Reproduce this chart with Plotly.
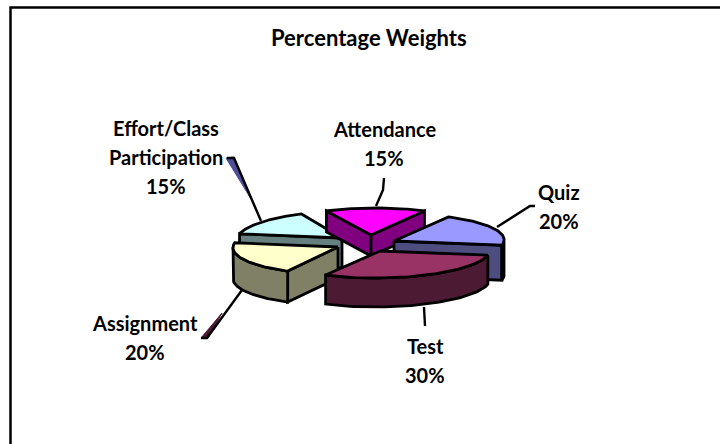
import numpy as np
import plotly.graph_objects as go

# ---- data ----
categories = ["Attendance", "Quiz", "Test", "Assignment", "Effort/Class<br>Participation"]
values = [15, 20, 30, 20, 15]
label_text = ["Attendance<br>15%", "Quiz<br>20%", "Test<br>30%", "Assignment<br>20%", "Effort/Class<br>Participation<br>15%"]
top_colors = ["#FF00FF", "#9999FF", "#993366", "#FFFFCC", "#CCFFFF"]
side_colors = ["#800080", "#4D4D80", "#4D1A33", "#808066", "#668080"]
title_text = "Percentage Weights"

# ---- pie geometry (screen-pixel scene) ----
RXS = [108, 110, 110, 105, 105]
RY = 27
SHEARS = [5, 5, 5, 3, 8]
START = -27
apexes = [(371, 235), (394, 241), (380, 251), (338, 247), (342, 238)]
depths = [21, 35, 29, 31, 30]
draw_order = [4, 0, 1, 3, 2]
label_pos = [(384, 129), (559, 192), (425, 346), (145, 323), (166, 128)]
LINE_GAP = 29
leaders = [
    [(376, 206), (383, 190), (384, 178)],
    [(497, 227), (530, 206), (535, 206)],
    [(424, 307), (425, 326)],
    [(242, 290), (207, 338), (201, 338)],
    [(261, 221), (234, 158), (227, 158)],
]
slivers = [None, None, None, [(222, 313), (201, 338), (208, 338)], [(226, 158), (234, 157), (251, 199)]]
sliver_colors = [None, None, None, "#4D1A33", "#4D4D99"]

fig = go.Figure()
total = sum(values)
angles = np.cumsum([0] + values) / total * 360 + START
LW = 2.8


def poly(pts, fill):
    pts = np.array(pts)
    fig.add_trace(go.Scatter(x=pts[:, 0], y=pts[:, 1], mode="lines", fill="toself",
                             fillcolor=fill, line=dict(color="black", width=LW),
                             hoverinfo="skip", showlegend=False))


def rim(i, ax, ay, th):
    return ax + RXS[i] * np.sin(th) + SHEARS[i] * np.cos(th), ay - RY * np.cos(th)


for i in draw_order:
    a0, a1 = angles[i], angles[i + 1]
    ax, ay = apexes[i]
    d = depths[i]
    th = np.radians(np.linspace(a0, a1, 60))
    ex, ey = rim(i, ax, ay, th)
    if np.sin(np.radians(a0)) < 0:
        poly([(ax, ay), (ex[0], ey[0]), (ex[0], ey[0] + d), (ax, ay + d), (ax, ay)], side_colors[i])
    if np.sin(np.radians(a1)) > 0:
        poly([(ax, ay), (ex[-1], ey[-1]), (ex[-1], ey[-1] + d), (ax, ay + d), (ax, ay)], side_colors[i])
    lo, hi = max(a0, 90), min(a1, 270)
    if hi > lo:
        tw = np.radians(np.linspace(lo, hi, 48))
        wx, wy = rim(i, ax, ay, tw)
        wall = list(zip(wx, wy)) + list(zip(wx[::-1], wy[::-1] + d))
        poly(wall + [wall[0]], side_colors[i])
    poly([(ax, ay)] + list(zip(ex, ey)) + [(ax, ay)], top_colors[i])

for s, c in zip(slivers, sliver_colors):
    if s:
        p = np.array(s + [s[0]])
        fig.add_trace(go.Scatter(x=p[:, 0], y=p[:, 1], mode="lines", fill="toself", fillcolor=c,
                                 line=dict(color=c, width=1), hoverinfo="skip", showlegend=False))
for l in leaders:
    p = np.array(l)
    fig.add_trace(go.Scatter(x=p[:, 0], y=p[:, 1], mode="lines", line=dict(color="black", width=2.4),
                             hoverinfo="skip", showlegend=False))

LABEL_FONT = dict(family="Lato", size=20, color="black")
for t, (x, y) in zip(label_text, label_pos):
    for k, line in enumerate(t.split("<br>")):
        fig.add_annotation(x=x, y=y + k * LINE_GAP, text="<b>%s</b>" % line, showarrow=False, font=LABEL_FONT)
fig.add_annotation(x=369, y=37, text="<b>%s</b>" % title_text, showarrow=False,
                   font=dict(family="Lato", size=22, color="black"))

fig.add_shape(type="rect", x0=10.5, y0=7.5, x1=760, y1=480, line=dict(color="black", width=2.5), layer="below")

fig.update_layout(width=720, height=444, autosize=False, margin=dict(l=0, r=0, t=0, b=0),
                  paper_bgcolor="white", plot_bgcolor="white",
                  xaxis=dict(range=[0, 720], visible=False, fixedrange=True),
                  yaxis=dict(range=[444, 0], visible=False, fixedrange=True))
fig.write_html("out.html", config={"displayModeBar": False},
               post_script="document.body.style.margin='0';document.body.style.overflow='hidden';")
